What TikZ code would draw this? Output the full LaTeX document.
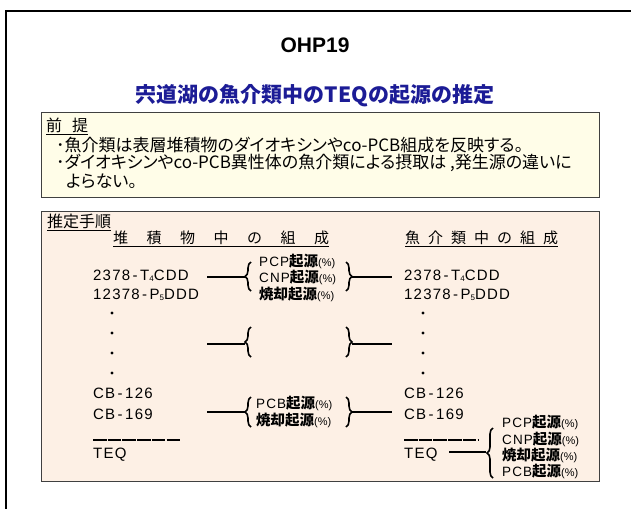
\documentclass[tikz,border=0pt]{standalone}
\usepackage{fontspec}
\setmainfont{Liberation Sans}
\newfontfamily\jp{Noto Sans CJK JP}
\newfontfamily\jpp[RawFeature=+palt]{Noto Sans CJK JP}
\newfontfamily\spc[LetterSpace=8]{Liberation Sans}
\usetikzlibrary{decorations.pathreplacing}
\definecolor{cream}{RGB}{255,253,232}
\definecolor{peach}{RGB}{253,240,229}
\definecolor{ttlblue}{RGB}{28,28,150}
\definecolor{boxline}{RGB}{64,64,64}
\newcommand\subn[1]{\raisebox{-0.5pt}{\fontsize{8}{8}\selectfont #1}}
\newcommand\pct{{\fontsize{11}{11}\selectfont(\%)}}
\newcommand\srcl[1]{{\spc\fontsize{13.5}{13.5}\selectfont #1}{\jp\bfseries\fontsize{14.5}{14.5}\selectfont 起源}\pct}
\newcommand\srcj[1]{{\jp\bfseries\fontsize{14.5}{14.5}\selectfont #1起源}\pct}
\begin{document}
\begin{tikzpicture}[x=1pt,y=-1pt,
  frame/.style={line width=2.2pt},
  panel/.style={draw=boxline,line width=1pt},
  jtxt/.style={anchor=west,inner sep=0pt,font=\jp\fontsize{16}{16}\selectfont},
  ptxt/.style={anchor=west,inner sep=0pt,font=\jpp\fontsize{17}{17}\selectfont},
  hdr/.style={anchor=west,inner sep=0pt,font=\jp\fontsize{15}{15}\selectfont},
  ent/.style={anchor=west,inner sep=0pt,font=\spc\fontsize{15}{15}\selectfont},
  srcbox/.style={anchor=west,inner sep=0pt},
  uline/.style={line width=0.8pt},
  conn/.style={line width=1.6pt},
  brl/.style={decorate,decoration={brace,amplitude=6pt},line width=1.6pt},
  dotm/.style={fill=black},
  sumline/.style={line width=1.4pt,dash pattern=on 13.5pt off 1.2pt}]
\useasboundingbox (0,0) rectangle (631,509);
\fill[white] (0,0) rectangle (631,509);
\draw[frame] (631,11) -- (6,11) -- (6,509);
% titles
\node[inner sep=0pt,font=\bfseries\fontsize{21}{21}\selectfont] (ohp) at (315,45) {OHP19};
\node[inner sep=0pt,text=ttlblue,font=\jp\bfseries\fontsize{21}{21}\selectfont] (ttl) at (315,96) {宍道湖の魚介類中のTEQの起源の推定};
% premise box
\draw[panel,fill=cream] (41,112) rectangle (599,197);
\node[jtxt] (pre) at (46,125) {前\hspace{10pt}提};
\draw[uline] ([yshift=-1.5pt]pre.south west) -- ([yshift=-1.5pt]pre.south east);
\node[ptxt] (p1) at (56,145) {･魚介類は表層堆積物のダイオキシンやco-PCB組成を反映する。};
\node[ptxt] (p2) at (56,163) {･ダイオキシンやco-PCB異性体の魚介類による摂取は ,発生源の違いに};
\node[ptxt] (p3) at (66,181) {よらない。};
% procedure box
\draw[panel,fill=peach] (41,211) rectangle (599,481);
\node[jtxt] (proc) at (47,221) {推定手順};
\draw[uline] ([yshift=-1.5pt]proc.south west) -- ([yshift=-1.5pt]proc.south east);
\node[hdr] (hl) at (113,238) {堆\hspace{18.5pt}積\hspace{18.5pt}物\hspace{18.5pt}中\hspace{18.5pt}の\hspace{18.5pt}組\hspace{18.5pt}成};
\draw[uline] ([yshift=-1.5pt]hl.south west) -- ([yshift=-1.5pt]hl.south east);
\node[hdr] (hr) at (405,238) {魚\hspace{8pt}介\hspace{8pt}類\hspace{8pt}中\hspace{8pt}の\hspace{8pt}組\hspace{8pt}成};
\draw[uline] ([yshift=-1.5pt]hr.south west) -- ([yshift=-1.5pt]hr.south east);
% left column
\node[ent] (l1) at (93,276) {2378\,-\,T\subn{4}CDD};
\node[ent] (l2) at (93,295) {12378\,-\,P\subn{5}DDD};
\foreach \yy in {313,333,353,373}{\fill[dotm] (112,\yy) circle (1.6pt);}
\node[ent] (l3) at (93,393) {CB\,-\,126};
\node[ent] (l4) at (93,414) {CB\,-\,169};
\coordinate (ls1) at (93,440); \coordinate (ls2) at (180,440);
\draw[sumline] (ls1) -- (ls2);
\node[ent] (lt) at (93,455) {TEQ};
% right column
\node[ent] (r1) at (404,276) {2378\,-\,T\subn{4}CDD};
\node[ent] (r2) at (404,295) {12378\,-\,P\subn{5}DDD};
\foreach \yy in {313,333,353,373}{\fill[dotm] (423,\yy) circle (1.6pt);}
\node[ent] (r3) at (404,393) {CB\,-\,126};
\node[ent] (r4) at (404,414) {CB\,-\,169};
\coordinate (rs1) at (404,440); \coordinate (rs2) at (478,440);
\draw[sumline] (rs1) -- (rs2);
\node[ent] (rt) at (404,455) {TEQ};
% group 1
\coordinate (g1a) at (207,277); \coordinate (g1b) at (245,277);
\draw[conn] (g1a) -- (g1b);
\draw[brl] (251,291) -- (251,262);
\node[srcbox] (s11) at (259,261) {\srcl{PCP}};
\node[srcbox] (s12) at (259,277) {\srcl{CNP}};
\node[srcbox] (s13) at (259,294) {\srcj{焼却}};
\draw[brl] (346,262) -- (346,291);
\coordinate (g1c) at (352,277); \coordinate (g1d) at (392,277);
\draw[conn] (g1c) -- (g1d);
% group 2
\coordinate (g2a) at (207,344); \coordinate (g2b) at (245,344);
\draw[conn] (g2a) -- (g2b);
\draw[brl] (251,357) -- (251,327);
\draw[brl] (346,327) -- (346,357);
\coordinate (g2c) at (352,344); \coordinate (g2d) at (392,344);
\draw[conn] (g2c) -- (g2d);
% group 3
\coordinate (g3a) at (207,412); \coordinate (g3b) at (245,412);
\draw[conn] (g3a) -- (g3b);
\draw[brl] (251,427) -- (251,397);
\node[srcbox] (s31) at (256,403) {\srcl{PCB}};
\node[srcbox] (s32) at (256,420) {\srcj{焼却}};
\draw[brl] (346,397) -- (346,427);
\coordinate (g3c) at (352,412); \coordinate (g3d) at (392,412);
\draw[conn] (g3c) -- (g3d);
% group 4
\coordinate (g4a) at (449,452); \coordinate (g4b) at (486,452);
\draw[conn] (g4a) -- (g4b);
\draw[brl] (493,478) -- (493,428);
\node[srcbox] (s41) at (502,422) {\srcl{PCP}};
\node[srcbox] (s42) at (502,439) {\srcl{CNP}};
\node[srcbox] (s43) at (502,455) {\srcj{焼却}};
\node[srcbox] (s44) at (502,471) {\srcl{PCB}};
\end{tikzpicture}
\end{document}
